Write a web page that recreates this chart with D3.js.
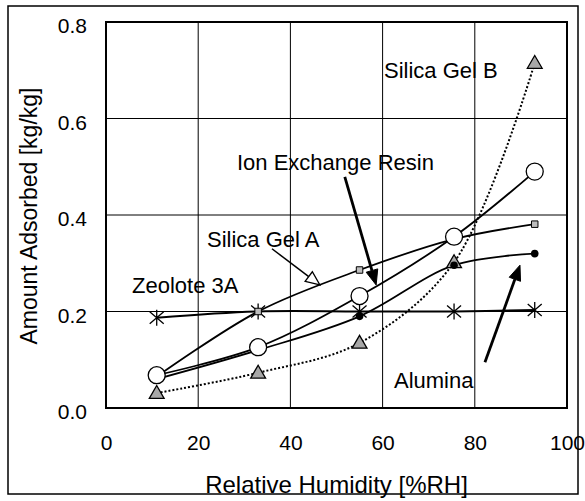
<!DOCTYPE html>
<html>
<head>
<meta charset="utf-8">
<script src="https://cdn.jsdelivr.net/npm/d3@7"></script>
<style>
  html, body { margin: 0; padding: 0; background: #fff; }
  svg { display: block; font-family: "Liberation Sans", Arial, sans-serif; }
</style>
</head>
<body>
<svg id="chart" width="585" height="501"></svg>
<script>
// ---- data ----
const humidity = [11, 33, 55, 75.5, 93];
const zeolite3A = [0.187, 0.200, 0.200, 0.200, 0.203];
const ionExchangeResin = [0.068, 0.126, 0.232, 0.355, 0.490];
const silicaGelA = [0.065, 0.200, 0.286, 0.350, 0.381];
const alumina = [0.060, 0.120, 0.190, 0.296, 0.320];
const silicaGelB = [0.031, 0.073, 0.135, 0.302, 0.715];

const xTicks = [0, 20, 40, 60, 80, 100];
const yTicks = [0.0, 0.2, 0.4, 0.6, 0.8];
const yTickLabels = ["0.0", "0.2", "0.4", "0.6", "0.8"];

const xTitle = "Relative Humidity [%RH]";
const yTitle = "Amount Adsorbed [kg/kg]";

// annotation labels (left x, centre y in pixels) and arrows (data coords)
const labels = [
  { text: "Silica Gel B", x: 384, y: 70 },
  { text: "Ion Exchange Resin", x: 237, y: 162 },
  { text: "Silica Gel A", x: 207, y: 239 },
  { text: "Zeolote 3A", x: 132, y: 285 },
  { text: "Alumina", x: 394, y: 380 }
];
const arrows = [
  { from: [51.8, 0.479], to: [58.6, 0.255], head: "filled" },
  { from: [36.0, 0.330], to: [46.4, 0.255], head: "open" },
  { from: [82.2, 0.095], to: [89.8, 0.296], head: "filled" }
];

// ---- layout ----
const svg = d3.select("#chart");
const L = 106, R = 567, T = 22, B = 408;
const x = d3.scaleLinear().domain([0, 100]).range([L, R]);
const y = d3.scaleLinear().domain([0, 0.8]).range([B, T]);

// outer frame
svg.append("rect").attr("x", 8).attr("y", 6).attr("width", 570).attr("height", 488)
  .attr("fill", "none").attr("stroke", "#000").attr("stroke-width", 1.5);

// gridlines
const g = svg.append("g");
g.selectAll("line.vg").data(xTicks.slice(1, -1)).join("line")
  .attr("x1", d => x(d)).attr("x2", d => x(d)).attr("y1", T).attr("y2", B)
  .attr("stroke", "#000").attr("stroke-width", 1);
g.selectAll("line.hg").data(yTicks.slice(1, -1)).join("line")
  .attr("y1", d => y(d)).attr("y2", d => y(d)).attr("x1", L).attr("x2", R)
  .attr("stroke", "#000").attr("stroke-width", 1);

// axes (labels only, via d3 axes)
const xAxis = svg.append("g").attr("transform", `translate(0,${B})`)
  .call(d3.axisBottom(x).tickValues(xTicks).tickSize(0).tickPadding(27).tickFormat(d3.format("d")));
const yAxis = svg.append("g").attr("transform", `translate(${L},0)`)
  .call(d3.axisLeft(y).tickValues(yTicks).tickSize(0).tickPadding(19).tickFormat((d, i) => yTickLabels[i]));
[xAxis, yAxis].forEach(a => {
  a.select(".domain").remove();
  a.selectAll("text").attr("font-size", 21).attr("fill", "#000")
    .attr("font-family", "'Liberation Sans', Arial, sans-serif");
});
yAxis.selectAll("text").attr("dy", "0.5em");

// plot border
svg.append("rect").attr("x", L).attr("y", T).attr("width", R - L).attr("height", B - T)
  .attr("fill", "none").attr("stroke", "#000").attr("stroke-width", 2);

// titles
svg.append("text").attr("x", (L + R) / 2 - 0).attr("y", 493).attr("text-anchor", "middle")
  .attr("font-size", 24).text(xTitle);
svg.append("text").attr("transform", `translate(37,216) rotate(-90)`).attr("text-anchor", "middle")
  .attr("font-size", 23).text(yTitle);

// ---- series ----
const line = d3.line().x(d => x(d[0])).y(d => y(d[1])).curve(d3.curveCatmullRom.alpha(0.5));
const series = [
  { vals: zeolite3A, dash: null, w: 2 },
  { vals: silicaGelB, dash: "2,2", w: 2 },
  { vals: alumina, dash: null, w: 1.8 },
  { vals: silicaGelA, dash: null, w: 1.8 },
  { vals: ionExchangeResin, dash: null, w: 1.8 }
];
series.forEach(s => {
  svg.append("path").datum(humidity.map((h, i) => [h, s.vals[i]]))
    .attr("d", line).attr("fill", "none").attr("stroke", "#000")
    .attr("stroke-width", s.w).attr("stroke-dasharray", s.dash);
});

// markers
const pts = vals => humidity.map((h, i) => [h, vals[i]]);
// zeolite asterisk
svg.append("g").selectAll("path").data(pts(zeolite3A)).join("path")
  .attr("transform", d => `translate(${x(d[0])},${y(d[1])})`)
  .attr("d", "M-7,-6L7,6M-7,6L7,-6M0,-8L0,8")
  .attr("stroke", "#000").attr("stroke-width", 1.3).attr("fill", "none");
// silica gel B triangles
svg.append("g").selectAll("path").data(pts(silicaGelB)).join("path")
  .attr("transform", d => `translate(${x(d[0])},${y(d[1]) + 1})`)
  .attr("d", d3.symbol(d3.symbolTriangle, 95))
  .attr("fill", "#a8a8a8").attr("stroke", "#000").attr("stroke-width", 1.3);
// silica gel A squares
svg.append("g").selectAll("path").data(pts(silicaGelA)).join("path")
  .attr("transform", d => `translate(${x(d[0])},${y(d[1])})`)
  .attr("d", d3.symbol(d3.symbolSquare, 42))
  .attr("fill", "#bdbdbd").attr("stroke", "#000").attr("stroke-width", 1);
// alumina dots
svg.append("g").selectAll("circle").data(pts(alumina)).join("circle")
  .attr("cx", d => x(d[0])).attr("cy", d => y(d[1])).attr("r", 3.8).attr("fill", "#000");
// ion exchange circles
svg.append("g").selectAll("circle").data(pts(ionExchangeResin)).join("circle")
  .attr("cx", d => x(d[0])).attr("cy", d => y(d[1])).attr("r", 8.5)
  .attr("fill", "#fff").attr("stroke", "#000").attr("stroke-width", 1.3);

// ---- annotations ----
svg.append("g").selectAll("text").data(labels).join("text")
  .attr("x", d => d.x).attr("y", d => d.y).attr("dy", "0.36em")
  .attr("font-size", 22).text(d => d.text);

arrows.forEach(a => {
  const x1 = x(a.from[0]), y1 = y(a.from[1]), x2 = x(a.to[0]), y2 = y(a.to[1]);
  const ang = Math.atan2(y2 - y1, x2 - x1);
  const hl = a.head === "filled" ? 15 : 14, hw = 6;
  const bx = x2 - hl * Math.cos(ang), by = y2 - hl * Math.sin(ang);
  const px = -Math.sin(ang), py = Math.cos(ang);
  svg.append("line").attr("x1", x1).attr("y1", y1).attr("x2", bx).attr("y2", by)
    .attr("stroke", "#000").attr("stroke-width", a.head === "filled" ? 2.8 : 1.5);
  svg.append("path")
    .attr("d", `M${x2},${y2}L${bx + px * hw},${by + py * hw}L${bx - px * hw},${by - py * hw}Z`)
    .attr("fill", a.head === "filled" ? "#000" : "#fff")
    .attr("stroke", "#000").attr("stroke-width", a.head === "filled" ? 1 : 1.3);
});
</script>
</body>
</html>
